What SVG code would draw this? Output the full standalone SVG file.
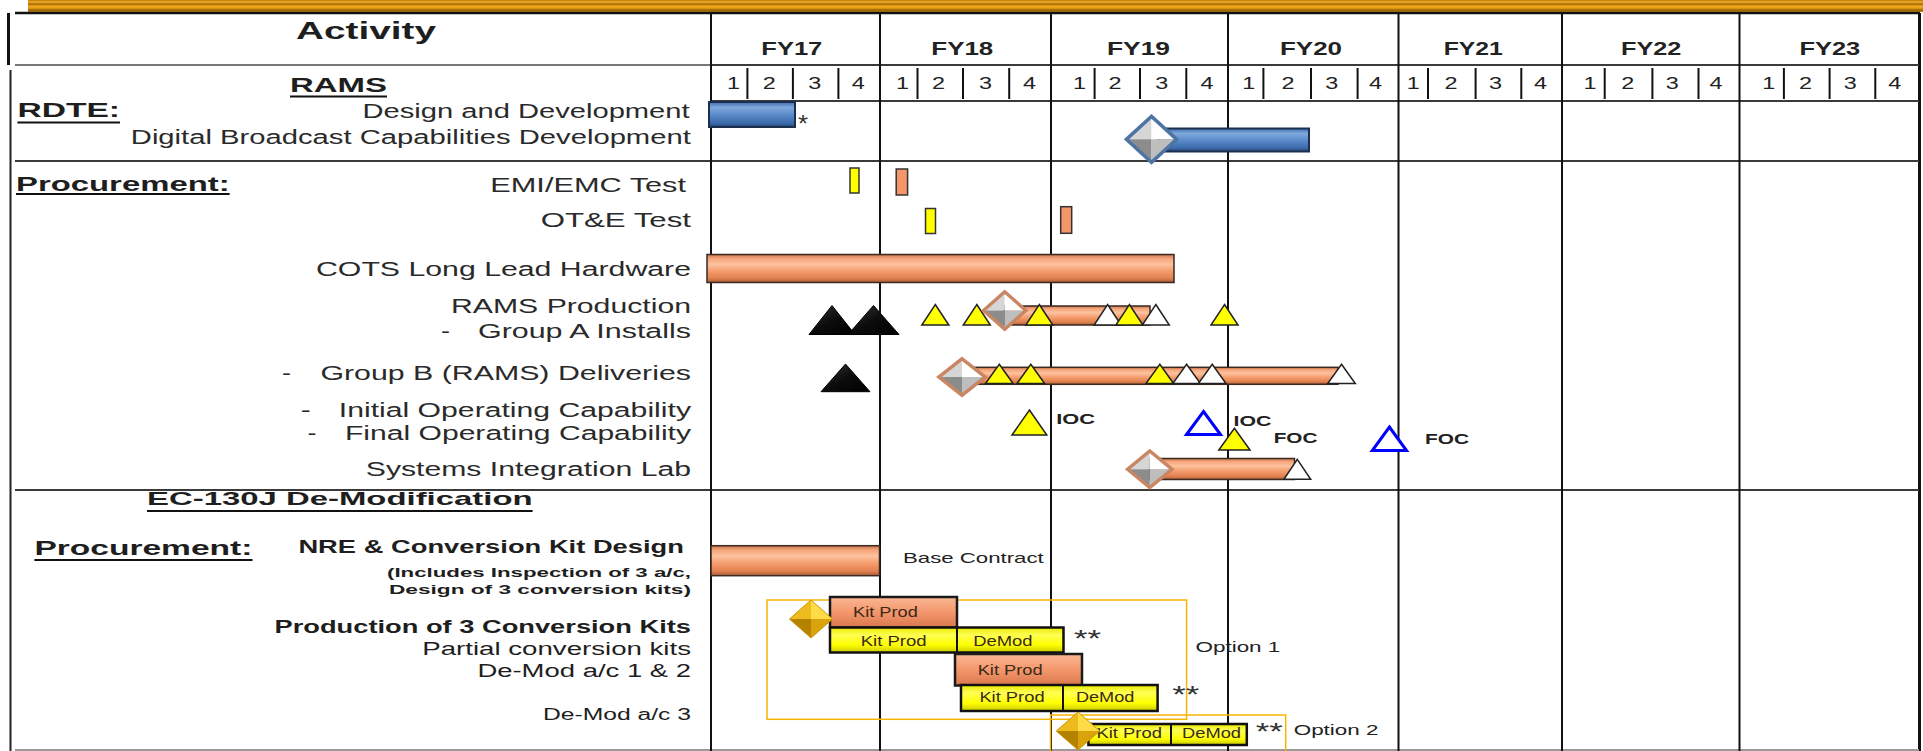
<svg xmlns="http://www.w3.org/2000/svg" width="1923" height="751" viewBox="0 0 1923 751">
  <style>
    text { font-family: "Liberation Sans", Arial, Helvetica, sans-serif; fill: #1e1e1e; }
    .b { font-weight: bold; }
    .fy { font-size: 18.5px; font-weight: bold; fill: #222; }
    .q { font-size: 16px; fill: #222; }
    .lbl { font-size: 20px; fill: #2a2a2a; }
    .sm { font-size: 15px; fill: #222; }
    .star { font-size: 24px; fill: #333; }
    .kit { font-size: 14px; fill: #3a2a18; }
    .ylin { stroke: #111; stroke-width: 2; }
    .qlin { stroke: #111; stroke-width: 2; }
    .hlin { stroke: #3a3a3a; stroke-width: 2; }
    .ul { stroke: #111; stroke-width: 2; }
    .barO { fill: url(#gOrange); stroke: #3a2a22; stroke-width: 1.5; }
    .barB { fill: url(#gBlue); stroke: #1c2f4f; stroke-width: 2; }
    .tick { stroke: #333; stroke-width: 1.5; }
    .boxO { fill: url(#gKit); stroke: #1a1a1a; stroke-width: 2.5; }
    .boxY { fill: url(#gYellow); stroke: #111; stroke-width: 2.5; }
    .triY { fill: #FFFF00; stroke: #222; stroke-width: 1.5; }
    .triW { fill: #FFFFFF; stroke: #222; stroke-width: 1.5; }
    .triK { fill: url(#gBlack); stroke: #000; stroke-width: 1; }
    .triBlue { fill: #FFFFFF; stroke: #0000FF; stroke-width: 3; }
    .opt { fill: none; stroke: #F7B500; stroke-width: 1.5; }
  </style>
  <defs>
    <linearGradient id="gBand" x1="0" y1="0" x2="0" y2="1">
      <stop offset="0" stop-color="#B87A08"/>
      <stop offset="0.18" stop-color="#F4AE2A"/>
      <stop offset="0.34" stop-color="#9C6700"/>
      <stop offset="0.5" stop-color="#F2A820"/>
      <stop offset="0.68" stop-color="#E59C14"/>
      <stop offset="0.84" stop-color="#8F5E00"/>
      <stop offset="1" stop-color="#D89414"/>
    </linearGradient>
    <linearGradient id="gOrange" x1="0" y1="0" x2="0" y2="1">
      <stop offset="0" stop-color="#C9754C"/>
      <stop offset="0.15" stop-color="#F6A67C"/>
      <stop offset="0.35" stop-color="#FCC29F"/>
      <stop offset="0.6" stop-color="#F59B6C"/>
      <stop offset="0.85" stop-color="#E0804F"/>
      <stop offset="1" stop-color="#A95B36"/>
    </linearGradient>
    <linearGradient id="gKit" x1="0" y1="0" x2="0" y2="1">
      <stop offset="0" stop-color="#F9B792"/>
      <stop offset="0.5" stop-color="#F4976D"/>
      <stop offset="1" stop-color="#D9774C"/>
    </linearGradient>
    <linearGradient id="gBlue" x1="0" y1="0" x2="0" y2="1">
      <stop offset="0" stop-color="#3E6DAE"/>
      <stop offset="0.22" stop-color="#80A9DC"/>
      <stop offset="0.5" stop-color="#5B8CCB"/>
      <stop offset="0.85" stop-color="#3C6AAA"/>
      <stop offset="1" stop-color="#27497A"/>
    </linearGradient>
    <linearGradient id="gYellow" x1="0" y1="0" x2="0" y2="1">
      <stop offset="0" stop-color="#E8E800"/>
      <stop offset="0.3" stop-color="#FFFF55"/>
      <stop offset="0.7" stop-color="#FFFF00"/>
      <stop offset="1" stop-color="#C8C800"/>
    </linearGradient>
    <linearGradient id="gBlack" x1="0" y1="0" x2="1" y2="1">
      <stop offset="0" stop-color="#3a3a3a"/>
      <stop offset="0.5" stop-color="#0c0c0c"/>
      <stop offset="1" stop-color="#000"/>
    </linearGradient>
    <!-- faceted milestone diamonds, drawn at half-width 22 / half-height 19 -->
    <g id="silverFacets">
      <polygon points="0,-19 -22,0 0,0" fill="#D6D6D6"/>
      <polygon points="0,-19 22,0 0,0" fill="#FFFFFF"/>
      <polygon points="-22,0 0,19 0,0" fill="#8C8C8C"/>
      <polygon points="22,0 0,19 0,0" fill="#BEBEBE"/>
    </g>
    <g id="goldFacets">
      <polygon points="0,-19 -22,0 0,0" fill="#EDBB1E"/>
      <polygon points="0,-19 22,0 0,0" fill="#FFDC45"/>
      <polygon points="-22,0 0,19 0,0" fill="#B58200"/>
      <polygon points="22,0 0,19 0,0" fill="#D9A30C"/>
    </g>
    <polygon id="dOutline" points="0,-19 22,0 0,19 -22,0" fill="none"/>
  </defs>

  <rect width="1923" height="751" fill="#FFFFFF"/>

  <!-- title band -->
  <rect x="28" y="0" width="1895" height="12" fill="url(#gBand)"/>

  <!-- table frame and grid -->
  <g id="grid">
    <line x1="15" y1="13" x2="1920" y2="13" stroke="#111" stroke-width="2.5"/>
    <line x1="8.5" y1="13" x2="8.5" y2="65" stroke="#111" stroke-width="3"/>
    <line x1="10.5" y1="70" x2="10.5" y2="751" stroke="#222" stroke-width="2"/>
    <line x1="1919.5" y1="13" x2="1919.5" y2="751" stroke="#111" stroke-width="3"/>
    <line x1="15" y1="65" x2="711" y2="65" stroke="#777" stroke-width="2"/>
    <line x1="711" y1="65" x2="1919" y2="65" class="hlin"/>
    <line x1="711" y1="101" x2="1919" y2="101" class="hlin"/>
    <line x1="15" y1="161" x2="1919" y2="161" class="hlin"/>
    <line x1="15" y1="490" x2="1919" y2="490" class="hlin"/>
    <line x1="15" y1="750" x2="1919" y2="750" stroke="#999" stroke-width="2"/>
    <line x1="711" y1="13" x2="711" y2="751" class="ylin"/>
    <line x1="880" y1="13" x2="880" y2="751" class="ylin"/>
    <line x1="1051" y1="13" x2="1051" y2="751" class="ylin"/>
    <line x1="1228" y1="13" x2="1228" y2="751" class="ylin"/>
    <line x1="1398.5" y1="13" x2="1398.5" y2="751" class="ylin"/>
    <line x1="1562" y1="13" x2="1562" y2="751" class="ylin"/>
    <line x1="1739.5" y1="13" x2="1739.5" y2="751" class="ylin"/>
    <g id="quarter-dividers">
      <line x1="747.4" y1="68" x2="747.4" y2="99" class="qlin"/>
      <line x1="792.9" y1="68" x2="792.9" y2="99" class="qlin"/>
      <line x1="838.4" y1="68" x2="838.4" y2="99" class="qlin"/>
      <line x1="917.5" y1="68" x2="917.5" y2="99" class="qlin"/>
      <line x1="963" y1="68" x2="963" y2="99" class="qlin"/>
      <line x1="1009.2" y1="68" x2="1009.2" y2="99" class="qlin"/>
      <line x1="1094.6" y1="68" x2="1094.6" y2="99" class="qlin"/>
      <line x1="1140" y1="68" x2="1140" y2="99" class="qlin"/>
      <line x1="1186.3" y1="68" x2="1186.3" y2="99" class="qlin"/>
      <line x1="1263.4" y1="68" x2="1263.4" y2="99" class="qlin"/>
      <line x1="1311" y1="68" x2="1311" y2="99" class="qlin"/>
      <line x1="1357.6" y1="68" x2="1357.6" y2="99" class="qlin"/>
      <line x1="1428" y1="68" x2="1428" y2="99" class="qlin"/>
      <line x1="1475.6" y1="68" x2="1475.6" y2="99" class="qlin"/>
      <line x1="1521.3" y1="68" x2="1521.3" y2="99" class="qlin"/>
      <line x1="1604.7" y1="68" x2="1604.7" y2="99" class="qlin"/>
      <line x1="1652.4" y1="68" x2="1652.4" y2="99" class="qlin"/>
      <line x1="1698.5" y1="68" x2="1698.5" y2="99" class="qlin"/>
      <line x1="1783.9" y1="68" x2="1783.9" y2="99" class="qlin"/>
      <line x1="1829.6" y1="68" x2="1829.6" y2="99" class="qlin"/>
      <line x1="1875.3" y1="68" x2="1875.3" y2="99" class="qlin"/>
    </g>
  </g>

  <!-- column headings -->
  <g id="header">
    <text class="b" x="296" y="38.5" font-size="24.7" textLength="140" lengthAdjust="spacingAndGlyphs">Activity</text>
    <text class="fy" x="761.3" y="55" textLength="61" lengthAdjust="spacingAndGlyphs">FY17</text>
    <text class="fy" x="931.3" y="55" textLength="62" lengthAdjust="spacingAndGlyphs">FY18</text>
    <text class="fy" x="1107" y="55" textLength="63" lengthAdjust="spacingAndGlyphs">FY19</text>
    <text class="fy" x="1280" y="55" textLength="62" lengthAdjust="spacingAndGlyphs">FY20</text>
    <text class="fy" x="1443.8" y="55" textLength="59" lengthAdjust="spacingAndGlyphs">FY21</text>
    <text class="fy" x="1621" y="55" textLength="60.4" lengthAdjust="spacingAndGlyphs">FY22</text>
    <text class="fy" x="1799.4" y="55" textLength="60.8" lengthAdjust="spacingAndGlyphs">FY23</text>
    <g id="quarters">
      <text class="q" x="727.1" y="89" textLength="13" lengthAdjust="spacingAndGlyphs">1</text>
      <text class="q" x="762.7" y="89" textLength="13" lengthAdjust="spacingAndGlyphs">2</text>
      <text class="q" x="808.2" y="89" textLength="13" lengthAdjust="spacingAndGlyphs">3</text>
      <text class="q" x="851.7" y="89" textLength="13" lengthAdjust="spacingAndGlyphs">4</text>
      <text class="q" x="895.9" y="89" textLength="13" lengthAdjust="spacingAndGlyphs">1</text>
      <text class="q" x="931.9" y="89" textLength="13" lengthAdjust="spacingAndGlyphs">2</text>
      <text class="q" x="979" y="89" textLength="13" lengthAdjust="spacingAndGlyphs">3</text>
      <text class="q" x="1022.9" y="89" textLength="13" lengthAdjust="spacingAndGlyphs">4</text>
      <text class="q" x="1073.1" y="89" textLength="13" lengthAdjust="spacingAndGlyphs">1</text>
      <text class="q" x="1108.5" y="89" textLength="13" lengthAdjust="spacingAndGlyphs">2</text>
      <text class="q" x="1155.3" y="89" textLength="13" lengthAdjust="spacingAndGlyphs">3</text>
      <text class="q" x="1200.4" y="89" textLength="13" lengthAdjust="spacingAndGlyphs">4</text>
      <text class="q" x="1242.3" y="89" textLength="13" lengthAdjust="spacingAndGlyphs">1</text>
      <text class="q" x="1281.4" y="89" textLength="13" lengthAdjust="spacingAndGlyphs">2</text>
      <text class="q" x="1325.3" y="89" textLength="13" lengthAdjust="spacingAndGlyphs">3</text>
      <text class="q" x="1369" y="89" textLength="13" lengthAdjust="spacingAndGlyphs">4</text>
      <text class="q" x="1406.7" y="89" textLength="13" lengthAdjust="spacingAndGlyphs">1</text>
      <text class="q" x="1444.5" y="89" textLength="13" lengthAdjust="spacingAndGlyphs">2</text>
      <text class="q" x="1489" y="89" textLength="13" lengthAdjust="spacingAndGlyphs">3</text>
      <text class="q" x="1533.9" y="89" textLength="13" lengthAdjust="spacingAndGlyphs">4</text>
      <text class="q" x="1583.5" y="89" textLength="13" lengthAdjust="spacingAndGlyphs">1</text>
      <text class="q" x="1621.3" y="89" textLength="13" lengthAdjust="spacingAndGlyphs">2</text>
      <text class="q" x="1665.8" y="89" textLength="13" lengthAdjust="spacingAndGlyphs">3</text>
      <text class="q" x="1709.5" y="89" textLength="13" lengthAdjust="spacingAndGlyphs">4</text>
      <text class="q" x="1762.3" y="89" textLength="13" lengthAdjust="spacingAndGlyphs">1</text>
      <text class="q" x="1798.9" y="89" textLength="13" lengthAdjust="spacingAndGlyphs">2</text>
      <text class="q" x="1843.7" y="89" textLength="13" lengthAdjust="spacingAndGlyphs">3</text>
      <text class="q" x="1888.3" y="89" textLength="13" lengthAdjust="spacingAndGlyphs">4</text>
    </g>
  </g>

  <!-- RAMS: RDTE -->
  <g id="rams-rdte">
    <text class="b" x="290" y="91.7" font-size="20" textLength="97" lengthAdjust="spacingAndGlyphs">RAMS</text>
    <line x1="290" y1="96.5" x2="387" y2="96.5" class="ul"/>
    <text class="b" x="17.4" y="116.7" font-size="19.6" textLength="102.6" lengthAdjust="spacingAndGlyphs">RDTE:</text>
    <line x1="17.4" y1="122.5" x2="120" y2="122.5" class="ul"/>
  </g>
  <g id="design-development">
    <text class="lbl" x="362.6" y="118.3" textLength="327" lengthAdjust="spacingAndGlyphs">Design and Development</text>
    <rect class="barB" x="709" y="102" width="86" height="25"/>
    <text class="star" x="798" y="132" textLength="10" lengthAdjust="spacingAndGlyphs">*</text>
  </g>
  <g id="digital-broadcast">
    <text class="lbl" x="130.8" y="144" textLength="560" lengthAdjust="spacingAndGlyphs">Digital Broadcast Capabilities Development</text>
    <rect class="barB" x="1158" y="128.5" width="151" height="23"/>
    <use href="#silverFacets" transform="translate(1151.5,139.3) scale(1.14,1.21)"/>
    <use href="#dOutline" transform="translate(1151.5,139.3) scale(1.14,1.21)" stroke="#4E74A4" stroke-width="3"/>
  </g>

  <!-- RAMS: Procurement -->
  <g id="rams-procurement">
    <text class="b" x="16" y="190.7" font-size="20.5" textLength="213.6" lengthAdjust="spacingAndGlyphs">Procurement:</text>
    <line x1="16" y1="194" x2="229.6" y2="194" class="ul"/>
  </g>
  <g id="emi-emc-test">
    <text class="lbl" x="490.3" y="191.7" textLength="195.7" lengthAdjust="spacingAndGlyphs">EMI/EMC Test</text>
    <rect x="850" y="168" width="9" height="25" fill="#FFFF00" class="tick"/>
    <rect x="896.2" y="169" width="11.4" height="26" fill="#F4956A" class="tick"/>
  </g>
  <g id="ote-test">
    <text class="lbl" x="540.7" y="227.3" textLength="150.3" lengthAdjust="spacingAndGlyphs">OT&amp;E Test</text>
    <rect x="925.5" y="208.5" width="10" height="25" fill="#FFFF00" class="tick"/>
    <rect x="1060.7" y="206.7" width="11" height="26.6" fill="#F4956A" class="tick"/>
  </g>
  <g id="cots-hardware">
    <text class="lbl" x="316" y="276" textLength="375" lengthAdjust="spacingAndGlyphs">COTS Long Lead Hardware</text>
    <rect class="barO" x="707" y="254.5" width="467" height="28"/>
  </g>
  <g id="rams-production">
    <text class="lbl" x="451" y="313.3" textLength="240" lengthAdjust="spacingAndGlyphs">RAMS Production</text>
    <text class="lbl" y="338.3"><tspan x="441" textLength="9" lengthAdjust="spacingAndGlyphs">-</tspan><tspan x="478" textLength="213" lengthAdjust="spacingAndGlyphs">Group A Installs</tspan></text>
    <rect class="barO" x="1004" y="306" width="146" height="19"/>
    <polygon class="triK" points="832,305.5 855,334.5 809,334.5"/>
    <polygon class="triK" points="873.5,305.5 899,334.5 848,334.5"/>
    <polygon class="triY" points="935.3,304.5 948.8,325 921.8,325"/>
    <polygon class="triY" points="976.8,304.5 990.3,325 963.3,325"/>
    <use href="#silverFacets" transform="translate(1004.7,310.5) scale(0.96,0.99)"/>
    <use href="#dOutline" transform="translate(1004.7,310.5) scale(0.96,0.99)" stroke="#C98663" stroke-width="3.5"/>
    <polygon class="triY" points="1039.3,304.5 1052.8,325 1025.8,325"/>
    <polygon class="triW" points="1107.6,304.5 1121.1,325 1094.1,325"/>
    <polygon class="triY" points="1129.4,304.5 1142.9,325 1115.9,325"/>
    <polygon class="triW" points="1155.8,304.5 1169.3,325 1142.3,325"/>
    <polygon class="triY" points="1224.5,304.5 1238,325 1211,325"/>
  </g>
  <g id="group-b-deliveries">
    <text class="lbl" y="380"><tspan x="282" textLength="9" lengthAdjust="spacingAndGlyphs">-</tspan><tspan x="320.4" textLength="370.6" lengthAdjust="spacingAndGlyphs">Group B (RAMS) Deliveries</tspan></text>
    <polygon class="triK" points="845.5,364 870,391.7 821,391.7"/>
    <rect class="barO" x="962" y="367.3" width="376" height="17"/>
    <use href="#silverFacets" transform="translate(962,377) scale(1.05,0.96)"/>
    <use href="#dOutline" transform="translate(962,377) scale(1.05,0.96)" stroke="#C98663" stroke-width="3.5"/>
    <polygon class="triY" points="999.3,364.3 1013.1,383.5 985.5,383.5"/>
    <polygon class="triY" points="1030.8,364.3 1044.6,383.5 1017,383.5"/>
    <polygon class="triY" points="1159.8,364.3 1173.6,383.5 1146,383.5"/>
    <polygon class="triW" points="1186.6,364.3 1200.4,383.5 1172.8,383.5"/>
    <polygon class="triW" points="1212.2,364.3 1226,383.5 1198.4,383.5"/>
    <polygon class="triW" points="1341.5,364.3 1355.3,383.5 1327.7,383.5"/>
  </g>
  <g id="initial-operating-capability">
    <text class="lbl" y="416.7"><tspan x="300.7" textLength="10" lengthAdjust="spacingAndGlyphs">-</tspan><tspan x="338.8" textLength="352.2" lengthAdjust="spacingAndGlyphs">Initial Operating Capability</tspan></text>
    <polygon class="triY" points="1029.4,410 1046.8,435 1012,435"/>
    <text class="sm b" x="1056.2" y="424.3" textLength="38.8" lengthAdjust="spacingAndGlyphs">IOC</text>
    <polygon class="triBlue" points="1203.5,411.5 1220.5,434.5 1186.5,434.5"/>
    <text class="sm b" x="1233.5" y="426" textLength="37.9" lengthAdjust="spacingAndGlyphs">IOC</text>
  </g>
  <g id="final-operating-capability">
    <text class="lbl" y="440"><tspan x="307.6" textLength="9" lengthAdjust="spacingAndGlyphs">-</tspan><tspan x="345" textLength="346" lengthAdjust="spacingAndGlyphs">Final Operating Capability</tspan></text>
    <polygon class="triY" points="1234.4,428.3 1250,450 1218.8,450"/>
    <text class="sm b" x="1273.7" y="442.7" textLength="43.7" lengthAdjust="spacingAndGlyphs">FOC</text>
    <polygon class="triBlue" points="1389.4,427 1406.5,450.5 1372.3,450.5"/>
    <text class="sm b" x="1425" y="444" textLength="44" lengthAdjust="spacingAndGlyphs">FOC</text>
  </g>
  <g id="systems-integration-lab">
    <text class="lbl" x="365.8" y="476" textLength="325.2" lengthAdjust="spacingAndGlyphs">Systems Integration Lab</text>
    <rect class="barO" x="1149.5" y="458.5" width="145" height="21"/>
    <use href="#silverFacets" transform="translate(1149.8,469.2) scale(1.01,0.96)"/>
    <use href="#dOutline" transform="translate(1149.8,469.2) scale(1.01,0.96)" stroke="#C98663" stroke-width="3.5"/>
    <polygon class="triW" points="1297.3,459.3 1310.7,479.3 1283.9,479.3"/>
  </g>

  <!-- EC-130J De-Modification -->
  <g id="ec130j-heading">
    <text class="b" x="147" y="505" font-size="18.6" textLength="385.6" lengthAdjust="spacingAndGlyphs">EC-130J De-Modification</text>
    <line x1="147" y1="511" x2="532.6" y2="511" class="ul"/>
    <text class="b" x="34.4" y="555" font-size="20" textLength="218" lengthAdjust="spacingAndGlyphs">Procurement:</text>
    <line x1="34.4" y1="560" x2="252.5" y2="560" class="ul"/>
  </g>
  <g id="nre-kit-design">
    <text class="b" x="298.4" y="553.3" font-size="18" fill="#222" textLength="385.6" lengthAdjust="spacingAndGlyphs">NRE &amp; Conversion Kit Design</text>
    <text class="b" x="387" y="576.7" font-size="13" textLength="304" lengthAdjust="spacingAndGlyphs">(Includes Inspection of 3 a/c,</text>
    <text class="b" x="389" y="594" font-size="13" textLength="302" lengthAdjust="spacingAndGlyphs">Design of 3 conversion kits)</text>
    <rect class="barO" x="711" y="545.7" width="168.5" height="30"/>
    <text class="sm" x="903" y="563.3" textLength="140.7" lengthAdjust="spacingAndGlyphs">Base Contract</text>
  </g>
  <g id="conversion-kit-labels">
    <text class="b" x="274.5" y="632.7" font-size="18" textLength="416.5" lengthAdjust="spacingAndGlyphs">Production of 3 Conversion Kits</text>
    <text x="422.3" y="655" font-size="18" fill="#2a2a2a" textLength="268.7" lengthAdjust="spacingAndGlyphs">Partial conversion  kits</text>
    <text x="477.4" y="677.3" font-size="18" fill="#2a2a2a" textLength="213.6" lengthAdjust="spacingAndGlyphs">De-Mod  a/c 1 &amp; 2</text>
    <text x="543" y="720" font-size="16" fill="#2a2a2a" textLength="148" lengthAdjust="spacingAndGlyphs">De-Mod a/c 3</text>
  </g>
  <g id="option-1">
    <rect class="opt" x="767" y="600" width="419.6" height="119.3"/>
    <rect class="boxO" x="830" y="597" width="127" height="30.5"/>
    <text class="kit" x="853.1" y="617.3" textLength="64.7" lengthAdjust="spacingAndGlyphs">Kit Prod</text>
    <rect class="boxY" x="830" y="627.5" width="233.5" height="25"/>
    <line x1="957" y1="627.5" x2="957" y2="652.5" stroke="#111" stroke-width="2"/>
    <text class="kit" x="860.7" y="645.7" textLength="66" lengthAdjust="spacingAndGlyphs">Kit Prod</text>
    <text class="kit" x="973.2" y="645.7" textLength="59.4" lengthAdjust="spacingAndGlyphs">DeMod</text>
    <use href="#goldFacets" transform="translate(811,619) scale(0.98,1)"/>
    <use href="#dOutline" transform="translate(811,619) scale(0.98,1)" stroke="#C99500" stroke-width="1"/>
    <text class="star" x="1074" y="647" textLength="27" lengthAdjust="spacingAndGlyphs">**</text>
    <rect class="boxO" x="955" y="654" width="127" height="31.5"/>
    <text class="kit" x="977.7" y="675" textLength="65" lengthAdjust="spacingAndGlyphs">Kit Prod</text>
    <rect class="boxY" x="961" y="685" width="196.6" height="26"/>
    <line x1="1063" y1="685" x2="1063" y2="711" stroke="#111" stroke-width="2"/>
    <text class="kit" x="979.4" y="702.3" textLength="65.2" lengthAdjust="spacingAndGlyphs">Kit Prod</text>
    <text class="kit" x="1075.9" y="702.3" textLength="58.4" lengthAdjust="spacingAndGlyphs">DeMod</text>
    <text class="star" x="1172.3" y="703" textLength="27" lengthAdjust="spacingAndGlyphs">**</text>
    <text class="sm" x="1195.5" y="652.3" textLength="84.8" lengthAdjust="spacingAndGlyphs">Option 1</text>
  </g>
  <g id="option-2">
    <rect class="opt" x="1050.5" y="715" width="235.2" height="40"/>
    <rect class="boxY" x="1088.4" y="724" width="158.4" height="21"/>
    <line x1="1171" y1="724" x2="1171" y2="745" stroke="#111" stroke-width="2"/>
    <text class="kit" x="1096.4" y="738.3" textLength="65.6" lengthAdjust="spacingAndGlyphs">Kit Prod</text>
    <text class="kit" x="1182" y="738.3" textLength="59" lengthAdjust="spacingAndGlyphs">DeMod</text>
    <use href="#goldFacets" transform="translate(1078,731) scale(0.99,1)"/>
    <use href="#dOutline" transform="translate(1078,731) scale(0.99,1)" stroke="#C99500" stroke-width="1"/>
    <text class="star" x="1255.8" y="740.4" textLength="27" lengthAdjust="spacingAndGlyphs">**</text>
    <text class="sm" x="1293.7" y="735" textLength="84.8" lengthAdjust="spacingAndGlyphs">Option 2</text>
  </g>
</svg>
